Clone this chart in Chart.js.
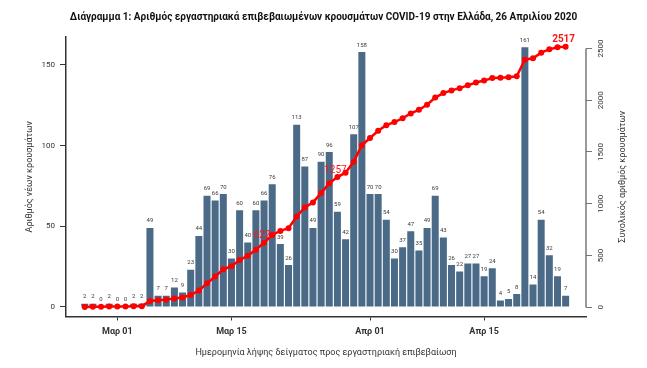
<!DOCTYPE html>
<html>
<head>
<meta charset="utf-8">
<script src="https://cdn.jsdelivr.net/npm/chart.js@4.4.1/dist/chart.umd.min.js"></script>
<style>
  html, body { margin: 0; padding: 0; background: #fff; }
  #chart { display: block; }
</style>
</head>
<body>
<canvas id="chart" width="647" height="368"></canvas>
<script>
// dates of sampling (Feb 26 - Apr 25 2020)
const dates = [
    'Φεβ 26', 'Φεβ 27', 'Φεβ 28', 'Φεβ 29',
    'Μαρ 01', 'Μαρ 02', 'Μαρ 03', 'Μαρ 04', 'Μαρ 05', 'Μαρ 06', 'Μαρ 07', 'Μαρ 08',
    'Μαρ 09', 'Μαρ 10', 'Μαρ 11', 'Μαρ 12', 'Μαρ 13', 'Μαρ 14', 'Μαρ 15', 'Μαρ 16',
    'Μαρ 17', 'Μαρ 18', 'Μαρ 19', 'Μαρ 20', 'Μαρ 21', 'Μαρ 22', 'Μαρ 23', 'Μαρ 24',
    'Μαρ 25', 'Μαρ 26', 'Μαρ 27', 'Μαρ 28', 'Μαρ 29', 'Μαρ 30', 'Μαρ 31',
    'Απρ 01', 'Απρ 02', 'Απρ 03', 'Απρ 04', 'Απρ 05', 'Απρ 06', 'Απρ 07', 'Απρ 08',
    'Απρ 09', 'Απρ 10', 'Απρ 11', 'Απρ 12', 'Απρ 13', 'Απρ 14', 'Απρ 15', 'Απρ 16',
    'Απρ 17', 'Απρ 18', 'Απρ 19', 'Απρ 20', 'Απρ 21', 'Απρ 22', 'Απρ 23', 'Απρ 24',
    'Απρ 25'
];

const newCases = [
    2, 2, 0, 2, 0, 0, 2, 2, 49, 7, 7, 12, 9, 23, 44, 69, 66, 70, 30, 60,
    40, 60, 66, 76, 39, 26, 113, 87, 49, 90, 96, 59, 42, 107, 158, 70, 70, 54, 30, 37,
    47, 35, 49, 69, 43, 26, 22, 27, 27, 19, 24, 4, 5, 8, 161, 14, 54, 32, 19, 7
];

const totalCases = [
    2, 4, 4, 6, 6, 6, 8, 10, 59, 66, 73, 85, 94, 117, 161, 230, 296, 366, 396, 456,
    496, 556, 622, 698, 737, 763, 876, 963, 1012, 1102, 1198, 1257, 1299, 1406, 1564, 1634, 1704, 1758, 1788, 1825,
    1872, 1907, 1956, 2025, 2068, 2094, 2116, 2143, 2170, 2189, 2213, 2217, 2222, 2230, 2391, 2405, 2459, 2491, 2510, 2517
];

// points of the total line that carry a label
const labelledDays = ['Μαρ 19', 'Μαρ 28', 'Απρ 25'];

const xTickLabels = ['Μαρ 01', 'Μαρ 15', 'Απρ 01', 'Απρ 15'];
const leftTicks = [0, 50, 100, 150];
const rightTicks = [0, 500, 1000, 1500, 2000, 2500];

const FONT = 'Roboto, "Noto Sans", sans-serif';
const TEXT = '#333';

const annotate = {
    id: 'annotate',
    afterDatasetsDraw(chart) {
        const ctx = chart.ctx;
        const bars = chart.getDatasetMeta(1).data;
        const pts = chart.getDatasetMeta(0).data;
        ctx.save();
        ctx.textAlign = 'center';
        ctx.textBaseline = 'middle';
        ctx.fillStyle = '#3a3a3a';
        ctx.font = '6px ' + FONT;
        bars.forEach((b, i) => ctx.fillText(String(newCases[i]), b.x, b.y - 7));

        ctx.fillStyle = '#ff1414';
        labelledDays.forEach((d, k) => {
            const i = dates.indexOf(d);
            const last = k === labelledDays.length - 1;
            ctx.font = (last ? 'bold ' : '') + '10px ' + FONT;
            ctx.fillText(String(totalCases[i]), pts[i].x - 2, pts[i].y - 7);
        });
        ctx.restore();
    },
    afterDraw(chart) {
        // right axis line only over the tick range, and its title read bottom-up
        const ctx = chart.ctx;
        const y2 = chart.scales.y2;
        const area = chart.chartArea;
        ctx.save();
        ctx.strokeStyle = '#777';
        ctx.lineWidth = 1.5;
        ctx.beginPath();
        ctx.moveTo(area.right, y2.getPixelForValue(0));
        ctx.lineTo(area.right, y2.getPixelForValue(2500));
        ctx.stroke();

        ctx.translate(623, (area.top + area.bottom) / 2);
        ctx.rotate(-Math.PI / 2);
        ctx.textAlign = 'center';
        ctx.textBaseline = 'middle';
        ctx.fillStyle = TEXT;
        ctx.font = '9px ' + FONT;
        ctx.fillText('Συνολικός αριθμός κρουσμάτων', 0, 0);
        ctx.restore();
    }
};

const ctx = document.getElementById('chart').getContext('2d');
new Chart(ctx, {
    type: 'bar',
    data: {
        datasets: [
            {
                type: 'line',
                label: 'Συνολικός αριθμός κρουσμάτων',
                data: totalCases.map((v, i) => ({ x: i, y: v })),
                yAxisID: 'y2',
                borderColor: '#ff0000',
                backgroundColor: '#ff0000',
                borderWidth: 2.5,
                pointRadius: 3,
                pointBorderWidth: 0,
                tension: 0
            },
            {
                type: 'bar',
                label: 'Αριθμός νέων κρουσμάτων',
                data: newCases.map((v, i) => ({ x: i, y: v })),
                yAxisID: 'y',
                backgroundColor: '#4a6a88',
                borderWidth: 0,
                barPercentage: 0.86,
                categoryPercentage: 1
            }
        ]
    },
    options: {
        responsive: false,
        animation: false,
        devicePixelRatio: 1,
        layout: { padding: 0 },
        plugins: {
            legend: { display: false },
            tooltip: { enabled: false },
            title: {
                display: true,
                text: 'Διάγραμμα 1: Αριθμός εργαστηριακά επιβεβαιωμένων κρουσμάτων COVID-19 στην Ελλάδα, 26 Απριλίου 2020',
                color: '#111',
                font: { family: FONT, size: 10, weight: 'bold', lineHeight: 1.2 },
                padding: { top: 11, bottom: 14 }
            }
        },
        scales: {
            x: {
                type: 'linear',
                offset: false,
                min: -2.3,
                max: 61.5,
                afterFit: s => { s.height = 51.5; },
                afterBuildTicks: s => { s.ticks = xTickLabels.map(l => ({ value: dates.indexOf(l) })); },
                grid: { offset: false, drawOnChartArea: false, drawTicks: true, tickLength: 4, color: '#333' },
                border: { display: true, color: '#333', width: 1.5 },
                ticks: {
                    autoSkip: false,
                    maxRotation: 0,
                    padding: 6,
                    color: TEXT,
                    font: { family: FONT, size: 9, weight: 'bold' },
                    callback: v => dates[v]
                },
                title: {
                    display: true,
                    text: 'Ημερομηνία λήψης δείγματος προς εργαστηριακή επιβεβαίωση',
                    color: TEXT,
                    font: { family: FONT, size: 9 },
                    padding: { top: 0, bottom: 10 }
                }
            },
            y: {
                position: 'left',
                min: -5.9,
                max: 167.3,
                afterFit: s => { s.width = 66; },
                afterBuildTicks: s => { s.ticks = leftTicks.map(v => ({ value: v })); },
                grid: { drawOnChartArea: false, drawTicks: true, tickLength: 6, color: '#333' },
                border: { display: true, color: '#333', width: 1.5 },
                ticks: { padding: 5, color: TEXT, font: { family: FONT, size: 8 } },
                title: {
                    display: true,
                    text: 'Αριθμός νέων κρουσμάτων',
                    color: TEXT,
                    font: { family: FONT, size: 9 },
                    padding: { top: 24 }
                }
            },
            y2: {
                position: 'right',
                min: -90,
                max: 2610,
                afterFit: s => { s.width = 61; },
                afterBuildTicks: s => { s.ticks = rightTicks.map(v => ({ value: v })); },
                grid: { drawOnChartArea: false, drawTicks: true, tickLength: 6, color: '#777' },
                border: { display: false },
                ticks: {
                    minRotation: 90,
                    maxRotation: 90,
                    crossAlign: 'center',
                    padding: 0,
                    color: TEXT,
                    font: { family: FONT, size: 8 },
                    callback: v => String(v)
                }
            }
        }
    },
    plugins: [annotate]
});
</script>
</body>
</html>
